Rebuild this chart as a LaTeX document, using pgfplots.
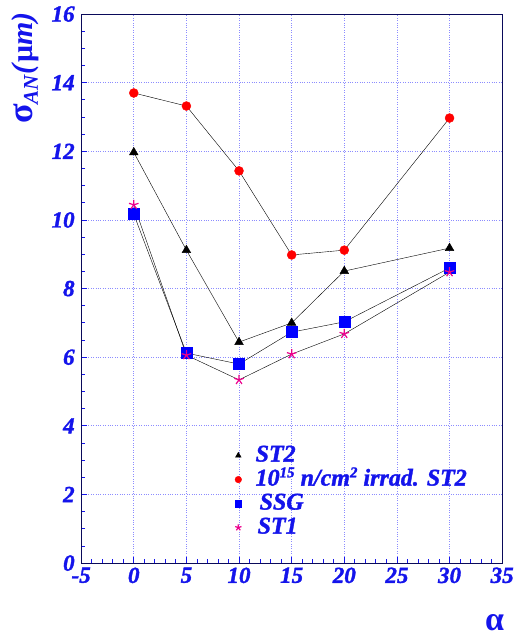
\documentclass[border=0pt]{standalone}
\usepackage{pgfplots}
\pgfplotsset{compat=1.18}
\usepackage{fontspec}
\setmainfont{Liberation Serif}
\newfontfamily\bifont{Liberation Serif}[BoldItalicFeatures={FakeBold=1.5}]
\definecolor{tblue}{RGB}{20,20,235}
\definecolor{navy}{RGB}{10,10,90}
\definecolor{gridb}{RGB}{140,140,255}
\newcommand{\sups}[1]{\raisebox{0.75ex}{\fontsize{15}{15}\selectfont #1}}
\begin{document}
\begin{tikzpicture}
\begin{axis}[
    scale only axis,
    width=421pt, height=549pt,
    xmin=-5, xmax=35, ymin=0, ymax=16,
    xtick={-5,0,...,35}, ytick={0,2,...,16},
    minor x tick num=4, minor y tick num=3,
    tick align=inside, tick pos=left,
    major tick length=6pt, minor tick length=4pt,
    tick style={tblue, thick},
    axis line style={navy, thick},
    grid=major,
    grid style={gridb, dotted, line width=0.7pt},
    /pgf/number format/assume math mode=true,
    ticklabel style={font=\bifont\fontsize{23}{26}\selectfont\bfseries\itshape, text=tblue},
    xticklabel style={yshift=-1pt},
    yticklabel style={xshift=-3pt},
    clip=false,
    legend style={draw=none, fill=none, at={(axis cs:9.6,3.46)}, anchor=north west,
        font=\bifont\fontsize{24}{26}\selectfont\bfseries\itshape, text=tblue,
        row sep=2pt, column sep=14pt, inner sep=0pt,
        nodes={text height=17pt, text depth=5pt, inner sep=0pt}},
    legend cell align=left,
    legend image code/.code={\draw[#1,only marks] plot coordinates {(0cm,0cm)};},
    legend image post style={mark size=3.3pt},
]
\path (axis cs:-12.71,-2.27) rectangle (axis cs:36.52,16.41);

\addplot[black, thin, mark=triangle*, mark size=5pt, mark options={fill=black}] coordinates {
    (0,11.97) (5,9.12) (10,6.44) (15,7.0) (20,8.51) (30,9.18)
};
\addlegendentry{ST2}

\addplot[black, thin, mark=*, mark size=4.5pt, mark options={draw=red, fill=red}] coordinates {
    (0,13.7) (5,13.32) (10,11.43) (15,8.98) (20,9.12) (30,12.97)
};
\addlegendentry{10\sups{15} n/cm\sups{2} irrad. ST2}

\addplot[black, thin, mark=square*, mark size=5.5pt, mark options={draw=blue, fill=blue}] coordinates {
    (0,10.17) (5,6.12) (10,5.8) (15,6.73) (20,7.03) (30,8.6)
};
\addlegendentry{\hspace*{4pt}SSG}

\addplot[black, thin, mark=star, mark size=5pt, mark options={draw=magenta, very thick}] coordinates {
    (0,10.44) (5,6.06) (10,5.34) (15,6.09) (20,6.68) (30,8.48)
};
\addlegendentry{\hspace*{2pt}ST1}

\node[anchor=south east, text=tblue, font=\fontsize{34}{34}\selectfont\bfseries, inner sep=0pt]
    at (axis cs:35.2,-1.98) {α};
\node[rotate=90, anchor=north east, text=tblue, font=\fontsize{30}{32}\selectfont\bfseries, inner sep=0pt]
    at (axis cs:-11.6,16.05) {{\fontsize{36}{36}\selectfont σ}\textsubscript{\itshape AN}\textit{(}μ\textit{m)}};
\end{axis}
\end{tikzpicture}
\end{document}
